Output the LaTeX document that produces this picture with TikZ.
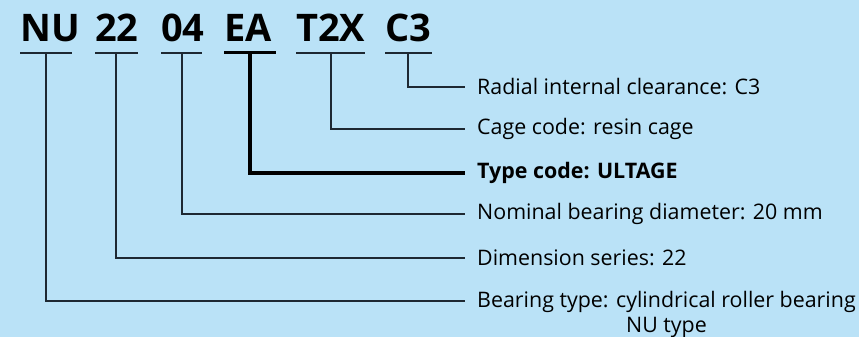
\documentclass[tikz,border=0pt]{standalone}
\usepackage{fontspec}
\setmainfont{Open Sans}
\definecolor{bg}{RGB}{186,226,247}
\definecolor{ln}{RGB}{30,40,50}
\begin{document}
\begin{tikzpicture}[x=1pt,y=-1pt,
  code/.style={anchor=base west,inner sep=0pt,font=\fontsize{38}{40}\selectfont\bfseries},
  lab/.style={anchor=west,inner sep=0pt,font=\fontsize{21.4}{25}\selectfont},
  thin/.style={draw=ln,line width=1.2pt},
  thick/.style={draw=black,line width=3.6pt}]
\fill[bg] (0,0) rectangle (859,337);
\useasboundingbox (0,0) rectangle (859,337);
% codes
\node[code] (nu) at (20,42) {NU};
\node[code] (c22) at (95,42) {22};
\node[code] (c04) at (161,42) {04};
\node[code] (ea) at (224,42) {EA};
\node[code] (t2x) at (296,42) {T2X};
\node[code] (c3) at (385,42) {C3};
% underlines
\coordinate (unu1) at (20,53); \coordinate (unu2) at (72,53);
\coordinate (u221) at (95,53); \coordinate (u222) at (138,53);
\coordinate (u041) at (161,53); \coordinate (u042) at (202,53);
\coordinate (uea1) at (224,53); \coordinate (uea2) at (276,53);
\coordinate (ut1) at (296,53); \coordinate (ut2) at (365,53);
\coordinate (uc1) at (385,53); \coordinate (uc2) at (432,53);
\draw[thin] (unu1) -- (unu2);
\draw[thin] (u221) -- (u222);
\draw[thin] (u041) -- (u042);
\draw[thick,line width=3pt] (uea1) -- (uea2);
\draw[thin] (ut1) -- (ut2);
\draw[thin] (uc1) -- (uc2);
% labels
\node[lab] (l1) at (477,87) {Radial internal clearance: C3};
\node[lab] (l2) at (477,129) {Cage code: resin cage};
\node[lab,font=\fontsize{21.4}{25}\selectfont\bfseries] (l3) at (477,173) {Type code: ULTAGE};
\node[lab] (l4) at (477,214) {Nominal bearing diameter: 20 mm};
\node[lab] (l5) at (477,258) {Dimension series: 22};
\node[lab,anchor=base west] (l6) at (477,307) {Bearing type: cylindrical roller bearing};
\node[anchor=base,inner sep=0pt,font=\fontsize{21.4}{25}\selectfont] (l6b) at (l6.base |- 0,332) {NU type};
% connectors
\coordinate (e) at (465,0);
\draw[thin] (408,53) |- (l1.west -| e);
\draw[thin] (331,53) |- (l2.west -| e);
\draw[thick] (250,53) |- (l3.west -| e);
\draw[thin] (182,53) |- (l4.west -| e);
\draw[thin] (116,53) |- (l5.west -| e);
\draw[thin] (46,53) |- (465,301);
\end{tikzpicture}
\end{document}
